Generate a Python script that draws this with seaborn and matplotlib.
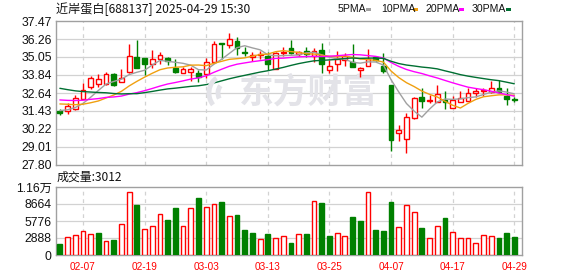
import numpy as np
import pandas as pd
import matplotlib
matplotlib.use('Agg')
import matplotlib.pyplot as plt
import seaborn as sns
from matplotlib.patches import Rectangle, Arc

# ---------------- data ----------------
dates = ['01-27', '02-05', '02-06', '02-07', '02-10', '02-11', '02-12', '02-13', '02-14', '02-17',
         '02-18', '02-19', '02-20', '02-21', '02-24', '02-25', '02-26', '02-27', '02-28', '03-03',
         '03-04', '03-05', '03-06', '03-07', '03-10', '03-11', '03-12', '03-13', '03-14', '03-17',
         '03-18', '03-19', '03-20', '03-21', '03-24', '03-25', '03-26', '03-27', '03-28', '03-31',
         '04-01', '04-02', '04-03', '04-07', '04-08', '04-09', '04-10', '04-11', '04-14', '04-15',
         '04-16', '04-17', '04-18', '04-21', '04-22', '04-23', '04-24', '04-25', '04-28', '04-29']

open_ = [31.43, 31.43, 31.54, 32.25, 33.06, 33.22, 33.22, 33.91, 33.39, 34.07,
         35.03, 34.99, 34.60, 34.94, 34.99, 34.34, 34.00, 34.07, 33.96, 33.89,
         34.74, 35.97, 35.86, 36.13, 35.39, 35.07, 35.19, 35.14, 34.25, 35.32,
         35.63, 35.26, 35.46, 35.12, 35.52, 34.16, 34.56, 34.85, 34.74, 34.18,
         34.45, 35.07, 34.45, 33.17, 29.93, 29.53, 30.93, 32.35, 32.12, 32.05,
         32.17, 31.65, 32.05, 32.12, 32.66, 32.75, 32.68, 32.95, 32.43, 32.23]
close = [31.27, 31.76, 32.28, 32.82, 33.62, 33.55, 33.91, 33.15, 33.62, 35.12,
         34.34, 34.58, 34.90, 35.19, 34.80, 34.02, 34.23, 34.26, 33.69, 34.70,
         35.93, 35.90, 36.24, 35.63, 35.34, 35.21, 35.26, 34.56, 35.30, 35.41,
         35.30, 35.39, 35.26, 35.48, 34.56, 34.47, 34.90, 35.14, 34.40, 34.29,
         34.90, 34.85, 34.13, 29.48, 30.15, 31.04, 32.28, 32.12, 32.19, 32.55,
         32.01, 32.17, 32.28, 32.61, 32.79, 32.82, 32.95, 32.72, 32.21, 32.19]
high = [31.54, 31.94, 32.50, 33.33, 33.78, 33.91, 34.07, 33.95, 34.23, 35.93,
        36.19, 35.00, 35.52, 35.37, 35.07, 34.90, 34.40, 34.40, 34.18, 34.97,
        36.15, 36.01, 36.64, 36.42, 35.70, 35.41, 35.48, 35.37, 35.41, 35.70,
        36.19, 35.48, 35.75, 35.63, 35.97, 34.85, 35.48, 35.30, 35.93, 34.40,
        35.57, 35.12, 35.30, 33.20, 30.49, 31.27, 32.39, 32.95, 32.50, 33.17,
        32.77, 32.43, 32.77, 32.95, 32.95, 32.95, 33.44, 33.51, 32.95, 32.39]
low = [31.16, 31.20, 31.50, 32.20, 32.88, 33.06, 33.17, 33.10, 33.36, 34.00,
       34.30, 33.84, 34.29, 34.58, 34.52, 34.00, 33.96, 33.44, 33.39, 33.62,
       34.67, 34.90, 35.63, 35.19, 35.12, 34.80, 34.92, 34.18, 34.23, 35.12,
       35.26, 35.12, 35.07, 34.74, 33.96, 34.00, 34.13, 34.47, 34.38, 33.69,
       34.43, 34.80, 34.00, 28.76, 29.43, 28.63, 30.90, 31.61, 31.94, 32.00,
       31.56, 31.60, 32.00, 32.10, 32.39, 32.43, 32.66, 32.61, 31.83, 32.05]
volume = [1832, 2997, 3330, 4107, 3497, 3663, 2442, 2498, 5273, 10656,
          8492, 4496, 4940, 6938, 5994, 7992, 4940, 7937, 9657, 8103,
          8603, 8991, 6605, 6827, 4163, 3663, 2664, 3497, 2831, 3164,
          2109, 3497, 3497, 9158, 8825, 3164, 3774, 3164, 6494, 5828,
          10656, 4329, 3996, 8991, 4773, 8436, 7326, 4662, 2942, 4940,
          6216, 3830, 2831, 2942, 2109, 3330, 3164, 2831, 3663, 3012]

# moving-average values before enough in-window history exists
ma5_head = [31.45, 31.51, 31.66, 31.93]
ma10_head = [31.90, 31.88, 31.85, 31.88, 31.98, 32.10, 32.30, 32.50, 32.75]
ma20_head = [32.17, 32.14, 32.13, 32.15, 32.21, 32.26, 32.34, 32.37, 32.43, 32.56,
             32.66, 32.79, 32.94, 33.10, 33.24, 33.34, 33.45, 33.57, 33.65]
ma30_head = [32.95, 32.86, 32.78, 32.73, 32.70, 32.67, 32.65, 32.60, 32.57, 32.59,
             32.59, 32.66, 32.74, 32.83, 32.91, 32.96, 33.02, 33.08, 33.12, 33.20,
             33.31, 33.45, 33.59, 33.71, 33.82, 33.93, 34.04, 34.13, 34.24]

price_ticks = ['27.80', '29.01', '30.22', '31.43', '32.64', '33.84', '35.05', '36.26', '37.47']
vol_ticks = ['0', '2888', '5776', '8664', '1.16万']
vol_tick_vals = [0, 2888, 5776, 8664, 11552]
xtick_idx = [3, 11, 19, 27, 35, 43, 51, 59]
title = '近岸蛋白[688137] 2025-04-29 15:30'
vol_title = '成交量:3012'
ma_names = ['5PMA', '10PMA', '20PMA', '30PMA']
ma_colors = ['#a0a0a0', '#f0a010', '#ff00ff', '#006f32']
watermark = '东方财富'

# ---------------- style ----------------
sns.set_theme(style='white')
plt.rcParams['font.family'] = ['Liberation Sans', 'Noto Sans CJK SC', 'DejaVu Sans']

RED = '#ff0000'
GREEN = '#008000'
SPINE = '#a0a0a0'
GRID = '#d2d2d2'
WM = '#e3e3e8'

n = len(close)
idx = np.arange(n)
o = np.array(open_); c = np.array(close); h = np.array(high); l = np.array(low)


def moving_avg(period, head):
    vals = list(head) + [float(np.mean(c[i - period + 1:i + 1])) for i in range(period - 1, n)]
    return np.array(vals)


mas = [moving_avg(5, ma5_head), moving_avg(10, ma10_head),
       moving_avg(20, ma20_head), moving_avg(30, ma30_head)]

fig = plt.figure(figsize=(5.78, 2.76), dpi=100)
W, H = 578, 276


def axrect(x0, y0, x1, y1):
    return [x0 / W, 1 - y1 / H, (x1 - x0) / W, (y1 - y0) / H]


ax = fig.add_axes(axrect(56, 21, 522, 165))
axv = fig.add_axes(axrect(56, 187, 522, 255))

for a in (ax, axv):
    a.set_xlim(-0.5, 60.0)
    for s in a.spines.values():
        s.set_color(SPINE)
        s.set_linewidth(1.0)
    a.tick_params(length=0)
    for xi in xtick_idx:
        a.axvline(xi, color=GRID, lw=0.9, ls=(0, (3, 3)), zorder=0)

# price axis
ymin, ymax = 27.80, 37.47
ax.set_ylim(ymin, ymax)
yt = np.linspace(ymin, ymax, 9)
ax.set_yticks(yt)
ax.set_yticklabels(price_ticks, fontsize=8.8, color='#111111')
for v in yt[1:-1]:
    ax.axhline(v, color=GRID, lw=0.9, zorder=0)
ax.set_xticks([])
ax.tick_params(axis='y', pad=3)

# watermark (text plus simple swirl logo)
ax.text((308.5 - 56) / 466, 1 - (92.5 - 21) / 144, watermark, transform=ax.transAxes,
        ha='center', va='center', fontsize=25, fontweight='bold', color=WM,
        family=['Noto Sans CJK SC'], zorder=0.5)
for cx, w_, t1, t2 in [(222, 26, 100, 250), (226, 16, 110, 240)]:
    fig.patches.append(Arc((cx / W, 1 - 93 / H), w_ / W, 1.25 * w_ / H, theta1=t1, theta2=t2,
                           transform=fig.transFigure, color=WM, lw=3.5, zorder=0.5))

# candles
up = c >= o
bw = 0.62
ax.vlines(idx, l, h, colors=[RED if u else GREEN for u in up], lw=1.0, zorder=2)
body_lo = np.minimum(o, c)
body_h = np.maximum(np.abs(c - o), 0.015)
ax.bar(idx[up], body_h[up], bottom=body_lo[up], width=bw, facecolor='white',
       edgecolor=RED, linewidth=1.0, zorder=3)
ax.bar(idx[~up], body_h[~up], bottom=body_lo[~up], width=bw, facecolor=GREEN,
       edgecolor=GREEN, linewidth=1.0, zorder=3)

# moving averages
for m, col in zip(mas, ma_colors):
    sns.lineplot(x=idx, y=m, color=col, lw=1.0, ax=ax, zorder=4)
ax.set_ylabel('')
ax.set_xlabel('')

# volume
vup = np.array([c[0] >= o[0]] + [c[i] >= c[i - 1] for i in range(1, n)])
vol = np.array(volume)
axv.set_ylim(0, 11552)
axv.set_yticks(vol_tick_vals)
axv.set_yticklabels(vol_ticks, fontsize=8.8, color='#111111')
for v in vol_tick_vals[1:-1]:
    axv.axhline(v, color=GRID, lw=0.9, zorder=0)
axv.bar(idx[vup], vol[vup], width=bw, facecolor='white', edgecolor=RED, linewidth=1.0, zorder=3)
axv.bar(idx[~vup], vol[~vup], width=bw, facecolor=GREEN, edgecolor=GREEN, linewidth=1.0, zorder=3)
axv.set_xticks(xtick_idx)
axv.set_xticklabels([dates[i] for i in xtick_idx], fontsize=7.2, color=RED)
axv.tick_params(axis='x', pad=5)
axv.tick_params(axis='y', pad=3)

# titles
fig.text(56 / W, 1 - 9 / H, title, ha='left', va='center', fontsize=8.7, color='#111111',
         family=['Noto Sans CJK SC', 'DejaVu Sans'])
fig.text(57 / W, 1 - 177 / H, vol_title, ha='left', va='center', fontsize=8.6, color='#111111',
         family=['Noto Sans CJK SC', 'DejaVu Sans'])

# legend
leg_x = [338, 381, 425, 472]
sq_x = [366, 413, 459, 506]
for name, col, tx, sx in zip(ma_names, ma_colors, leg_x, sq_x):
    fig.text(tx / W, 1 - 9 / H, name, ha='left', va='center', fontsize=7.6, color='#111111',
             family=['Liberation Sans'])
    fig.patches.append(Rectangle((sx / W, 1 - 11 / H), 5 / W, 3 / H, transform=fig.transFigure,
                                 facecolor=col, edgecolor='none'))

fig.savefig('out.png', dpi=100)
